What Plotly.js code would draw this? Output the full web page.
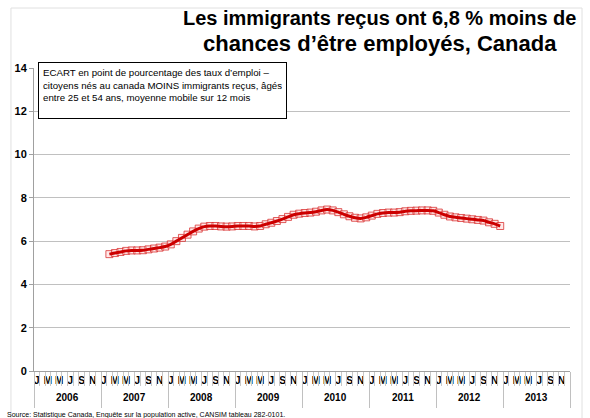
<!DOCTYPE html>
<html>
<head>
<meta charset="utf-8">
<script src="https://cdn.plot.ly/plotly-3.0.1.min.js"></script>
<style>
html,body{margin:0;padding:0;background:#fff;}
#chart{width:590px;height:418px;}
</style>
</head>
<body>
<div id="chart"></div>
<script>
// Month index 0 = Jan 2006 ... 95 = Dec 2013
var monthLetters = ["J","F","M","A","M","J","J","A","S","O","N","D"];
var years = ["2006","2007","2008","2009","2010","2011","2012","2013"];
// Series: Feb 2007 (index 13) to Dec 2012 (index 83)
var startIndex = 13;
var gapValues = [
  5.40,5.45,5.50,5.55,5.57,5.57,5.58,5.62,5.66,5.70,5.75,
  5.85,6.00,6.15,6.30,6.45,6.58,6.67,6.70,6.70,6.68,6.67,6.68,
  6.70,6.70,6.70,6.68,6.70,6.78,6.85,6.93,7.02,7.12,7.22,7.27,
  7.30,7.32,7.36,7.42,7.46,7.42,7.34,7.24,7.15,7.08,7.05,7.10,
  7.18,7.26,7.30,7.32,7.32,7.34,7.38,7.40,7.41,7.42,7.42,7.40,
  7.32,7.22,7.14,7.10,7.07,7.04,7.01,6.98,6.95,6.87,6.80,6.70
];
var titleLine1 = "Les immigrants reçus ont 6,8 % moins de";
var titleLine2 = "chances d’être employés, Canada";
var boxText = "ECART en point de pourcentage des taux d’emploi –<br>citoyens nés au canada MOINS immigrants reçus, âgés<br>entre 25 et 54 ans, moyenne mobile sur 12 mois";
var sourceText = "Source: Statistique Canada, Enquête sur la population active, CANSIM tableau 282-0101.";

var xs = gapValues.map(function(v,i){return startIndex+i;});
var nMonths = years.length*12;

var monthTickVals=[], monthTickText=[];
for (var m=0;m<nMonths;m+=2){monthTickVals.push(m);monthTickText.push(monthLetters[m%12]);}
var yearBounds=[];
for (var k=0;k<=years.length;k++) yearBounds.push(k*12-0.5);

var FONT = 'Arial, Liberation Sans, sans-serif';

var traces = [
  {x:xs,y:gapValues,type:'scatter',mode:'markers',xaxis:'x',yaxis:'y',
   marker:{symbol:'square',size:7,color:'rgba(255,215,215,0.55)',line:{color:'rgba(215,40,40,0.75)',width:1}},
   hoverinfo:'skip',showlegend:false},
  {x:xs,y:gapValues,type:'scatter',mode:'lines',xaxis:'x',yaxis:'y',
   line:{color:'#cc0000',width:3,shape:'spline',smoothing:0.6},showlegend:false},
  // carriers for the overlay axes that draw the month and year separators
  {x:xs,y:gapValues,type:'scatter',mode:'none',xaxis:'x2',yaxis:'y',hoverinfo:'skip',showlegend:false},
  {x:xs,y:gapValues,type:'scatter',mode:'none',xaxis:'x3',yaxis:'y',hoverinfo:'skip',showlegend:false}
];

var annotations = [
  {text:titleLine1+'<br><span style="font-size:22px">'+titleLine2+'</span>',xref:'paper',yref:'paper',x:0.645,y:1.205,xanchor:'center',yanchor:'top',
   align:'center',showarrow:false,borderpad:0,
   font:{family:FONT,size:20,color:'#000',weight:'bold'}},
  {text:boxText,xref:'paper',yref:'paper',x:0.0075,y:1.02,xanchor:'left',yanchor:'top',
   align:'left',valign:'top',height:47,showarrow:false,bgcolor:'#ffffff',bordercolor:'#000000',borderwidth:1,borderpad:4,
   font:{family:FONT,size:9.7,color:'#000'}},
  {text:sourceText,xref:'paper',yref:'paper',x:-0.055,y:-0.125,xanchor:'left',yanchor:'top',
   showarrow:false,font:{family:FONT,size:7,color:'#000'}}
];
years.forEach(function(yr,i){
  annotations.push({text:yr,xref:'x',yref:'paper',x:i*12+5.5,y:-0.086,yanchor:'middle',
    showarrow:false,font:{family:FONT,size:10,color:'#000',weight:'bold'}});
});

var layout = {
  width:590,height:418,
  margin:{l:34,r:20,t:68,b:47},
  paper_bgcolor:'#fff',plot_bgcolor:'#fff',
  xaxis:{range:[-0.5,nMonths-0.5],tickmode:'array',tickvals:monthTickVals,ticktext:monthTickText,
    ticks:'',showgrid:false,zeroline:false,showline:true,linecolor:'#a0a0a0',linewidth:1,
    tickfont:{family:FONT,size:10,color:'#000',weight:'bold'},
    tickangle:0,fixedrange:true},
  xaxis2:{overlaying:'x',anchor:'y',side:'bottom',range:[-0.5,nMonths-0.5],tickmode:'linear',tick0:-0.5,dtick:1,
    ticks:'outside',ticklen:14,tickcolor:'#c8c8c8',tickwidth:1,showticklabels:false,showgrid:false,zeroline:false,showline:false},
  xaxis3:{overlaying:'x',anchor:'y',side:'bottom',range:[-0.5,nMonths-0.5],tickmode:'array',tickvals:yearBounds,
    ticks:'outside',ticklen:36,tickcolor:'#c0c0c0',tickwidth:1,showticklabels:false,showgrid:false,zeroline:false,showline:false},
  yaxis:{range:[0,14],tickmode:'linear',tick0:0,dtick:2,showgrid:true,gridcolor:'#c0c0c0',gridwidth:1,
    zeroline:false,showline:true,linecolor:'#a0a0a0',ticks:'outside',ticklen:4,tickcolor:'#a0a0a0',
    tickfont:{family:FONT,size:11,color:'#000',weight:'bold'},fixedrange:true},
  shapes:[
    {type:'rect',xref:'paper',yref:'paper',x0:-0.043,x1:1.0224,y0:-0.2,y1:1.198,layer:'below',
     line:{color:'#e0e0e0',width:1},fillcolor:'rgba(0,0,0,0)'}
  ],
  annotations:annotations,
  showlegend:false
};

Plotly.newPlot('chart',traces,layout,{displayModeBar:false,staticPlot:true});
</script>
</body>
</html>
